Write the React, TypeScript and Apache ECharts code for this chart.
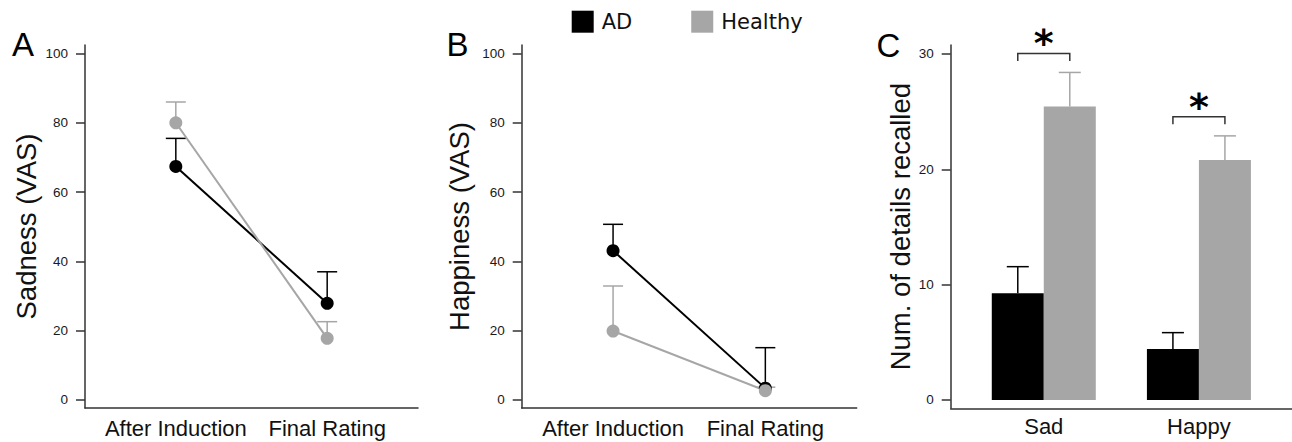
import React, { useEffect, useRef } from "react";
import * as echarts from "echarts";

// ---------------- data ----------------
const conditions = ["After Induction", "Final Rating"];
const emotions = ["Sad", "Happy"];
const groups = ["AD", "Healthy"];

// Panel A: Sadness (VAS)
const sadnessAD = [67.4, 27.9];
const sadnessADSem = [8.1, 9.1];
const sadnessHealthy = [80.0, 17.8];
const sadnessHealthySem = [6.0, 4.8];

// Panel B: Happiness (VAS)
const happinessAD = [43.1, 3.4];
const happinessADSem = [7.6, 11.7];
const happinessHealthy = [19.9, 2.7];
const happinessHealthySem = [13.0, 1.0];

// Panel C: Num. of details recalled
const recallAD = [9.25, 4.42];
const recallADSem = [2.31, 1.42];
const recallHealthy = [25.44, 20.8];
const recallHealthySem = [2.96, 2.1];
const significanceHeights = [30.05, 24.55];

const vasTicks = [0, 20, 40, 60, 80, 100];
const recallTicks = [0, 10, 20, 30];

// ---------------- styles ----------------
const BLACK = "#000000";
const GRAY = "#a6a6a6";
const AXIS = "#333333";
const SANS = '"Liberation Sans", Arial, sans-serif';

function errorSeries(
  name: string,
  idx: number,
  means: number[],
  sems: number[],
  color: string,
  capHalf: number,
  offsetPx: number
) {
  return {
    type: "custom",
    name,
    xAxisIndex: idx,
    yAxisIndex: idx,
    z: 1,
    silent: true,
    encode: { x: 0, y: [1, 2] },
    data: means.map((m, i) => [i, m, m + sems[i]]),
    renderItem: (params: any, api: any) => {
      const base = api.coord([api.value(0), api.value(1)]);
      const top = api.coord([api.value(0), api.value(2)]);
      const x = base[0] + offsetPx;
      return {
        type: "group",
        children: [
          {
            type: "line",
            shape: { x1: x, y1: base[1], x2: x, y2: top[1] },
            style: { stroke: color, lineWidth: 1.5 },
          },
          {
            type: "line",
            shape: { x1: x - capHalf, y1: top[1], x2: x + capHalf, y2: top[1] },
            style: { stroke: color, lineWidth: 1.5 },
          },
        ],
      };
    },
  };
}

function lineSeries(name: string, idx: number, values: number[], color: string) {
  return {
    type: "line",
    name,
    xAxisIndex: idx,
    yAxisIndex: idx,
    z: 3,
    data: values.map((v, i) => [i, v]),
    symbol: "circle",
    symbolSize: 13,
    lineStyle: { color, width: 2 },
    itemStyle: { color },
  };
}

function makeXAxis(idx: number, labels: string[], margin: number) {
  return {
    type: "value",
    gridIndex: idx,
    min: -0.6,
    max: 1.6,
    splitLine: { show: false },
    axisLine: { show: true, onZero: false, lineStyle: { color: AXIS, width: 1.5 } },
    axisTick: { show: false },
    axisLabel: {
      customValues: [0, 1],
      formatter: (v: number) => labels[Math.round(v)] ?? "",
      fontFamily: SANS,
      fontSize: 22,
      color: "#111",
      margin,
    },
  };
}

function makeYAxis(
  idx: number,
  name: string,
  min: number,
  max: number,
  ticks: number[],
  nameGap: number
) {
  return {
    type: "value",
    gridIndex: idx,
    min,
    max,
    name,
    nameLocation: "middle",
    nameRotate: 90,
    nameGap,
    nameTextStyle: { fontFamily: SANS, fontSize: 27.5, color: "#111" },
    splitLine: { show: false },
    axisLine: { show: true, onZero: false, lineStyle: { color: AXIS, width: 1.5 } },
    axisTick: {
      show: true,
      length: 9,
      customValues: ticks,
      lineStyle: { color: AXIS, width: 1.5 },
    },
    axisLabel: {
      customValues: ticks,
      fontFamily: SANS,
      fontSize: 13.5,
      color: "#1a1a1a",
      margin: 17,
    },
  };
}

export default function App() {
  const ref = useRef<HTMLDivElement>(null);

  useEffect(() => {
    if (!ref.current) return;
    const chart = echarts.init(ref.current, undefined, { renderer: "svg" });

    const bracketSeries = {
      type: "custom",
      name: "significance",
      xAxisIndex: 2,
      yAxisIndex: 2,
      z: 4,
      silent: true,
      encode: { x: 0, y: 1 },
      data: significanceHeights.map((h, i) => [i, h]),
      renderItem: (params: any, api: any) => {
        const p = api.coord([api.value(0), api.value(1)]);
        const l = p[0] - 26;
        const r = p[0] + 26;
        return {
          type: "group",
          children: [
            {
              type: "polyline",
              shape: {
                points: [
                  [l, p[1] + 7.5],
                  [l, p[1]],
                  [r, p[1]],
                  [r, p[1] + 7.5],
                ],
              },
              style: { stroke: AXIS, lineWidth: 1.5, fill: null },
            },
            {
              type: "text",
              x: p[0],
              y: p[1] - 10,
              style: {
                text: "*",
                font: 'bold 38px "DejaVu Sans"',
                fill: "#000",
                textAlign: "center",
                textVerticalAlign: "middle",
              },
            },
          ],
        };
      },
    };

    const option = {
      animation: false,
      backgroundColor: "#ffffff",
      legend: {
        left: 566.7,
        top: 5.7,
        itemWidth: 22,
        itemHeight: 22,
        itemGap: 59,
        selectedMode: false,
        textStyle: {
          fontFamily: '"DejaVu Sans", sans-serif',
          fontSize: 21,
          color: "#111",
          padding: [0, 0, 0, 3],
        },
        data: [
          { name: groups[0], icon: "rect", itemStyle: { color: BLACK } },
          { name: groups[1], icon: "rect", itemStyle: { color: GRAY } },
        ],
      },
      grid: [
        { left: 85, top: 45, width: 333, height: 363 },
        { left: 521.7, top: 45, width: 335, height: 363 },
        { left: 950.7, top: 45, width: 341.7, height: 363.3 },
      ],
      xAxis: [
        makeXAxis(0, conditions, 9),
        makeXAxis(1, conditions, 9),
        makeXAxis(2, emotions, 7),
      ],
      yAxis: [
        makeYAxis(0, "Sadness (VAS)", -2.31, 102.45, vasTicks, 45),
        makeYAxis(1, "Happiness (VAS)", -2.31, 102.45, vasTicks, 48),
        makeYAxis(2, "Num. of details recalled", -0.72, 30.78, recallTicks, 33),
      ],
      graphic: [
        { type: "text", left: 12, top: 28, style: { text: "A", font: `33px ${SANS}`, fill: "#000" } },
        { type: "text", left: 446.5, top: 28, style: { text: "B", font: `33px ${SANS}`, fill: "#000" } },
        { type: "text", left: 876.5, top: 28.5, style: { text: "C", font: `33px ${SANS}`, fill: "#000" } },
      ],
      series: [
        // Panel A
        errorSeries(groups[0], 0, sadnessAD, sadnessADSem, BLACK, 10, 0),
        errorSeries(groups[1], 0, sadnessHealthy, sadnessHealthySem, GRAY, 10, 0),
        lineSeries(groups[0], 0, sadnessAD, BLACK),
        lineSeries(groups[1], 0, sadnessHealthy, GRAY),
        // Panel B
        errorSeries(groups[0], 1, happinessAD, happinessADSem, BLACK, 10, 0),
        errorSeries(groups[1], 1, happinessHealthy, happinessHealthySem, GRAY, 10, 0),
        lineSeries(groups[0], 1, happinessAD, BLACK),
        lineSeries(groups[1], 1, happinessHealthy, GRAY),
        // Panel C
        {
          type: "bar",
          name: groups[0],
          xAxisIndex: 2,
          yAxisIndex: 2,
          barWidth: 52,
          barGap: "0%",
          data: recallAD.map((v, i) => [i, v]),
          itemStyle: { color: BLACK },
        },
        {
          type: "bar",
          name: groups[1],
          xAxisIndex: 2,
          yAxisIndex: 2,
          barWidth: 52,
          barGap: "0%",
          data: recallHealthy.map((v, i) => [i, v]),
          itemStyle: { color: GRAY },
        },
        { ...errorSeries(groups[0], 2, recallAD, recallADSem, BLACK, 11, -26), z: 3 },
        { ...errorSeries(groups[1], 2, recallHealthy, recallHealthySem, GRAY, 11, 26), z: 3 },
        bracketSeries,
      ],
    };

    chart.setOption(option as any);
    return () => chart.dispose();
  }, []);

  return (
    <div
      ref={ref}
      style={{
        position: "fixed",
        left: 0,
        top: 0,
        width: 1292,
        height: 442,
        background: "#fff",
      }}
    />
  );
}
